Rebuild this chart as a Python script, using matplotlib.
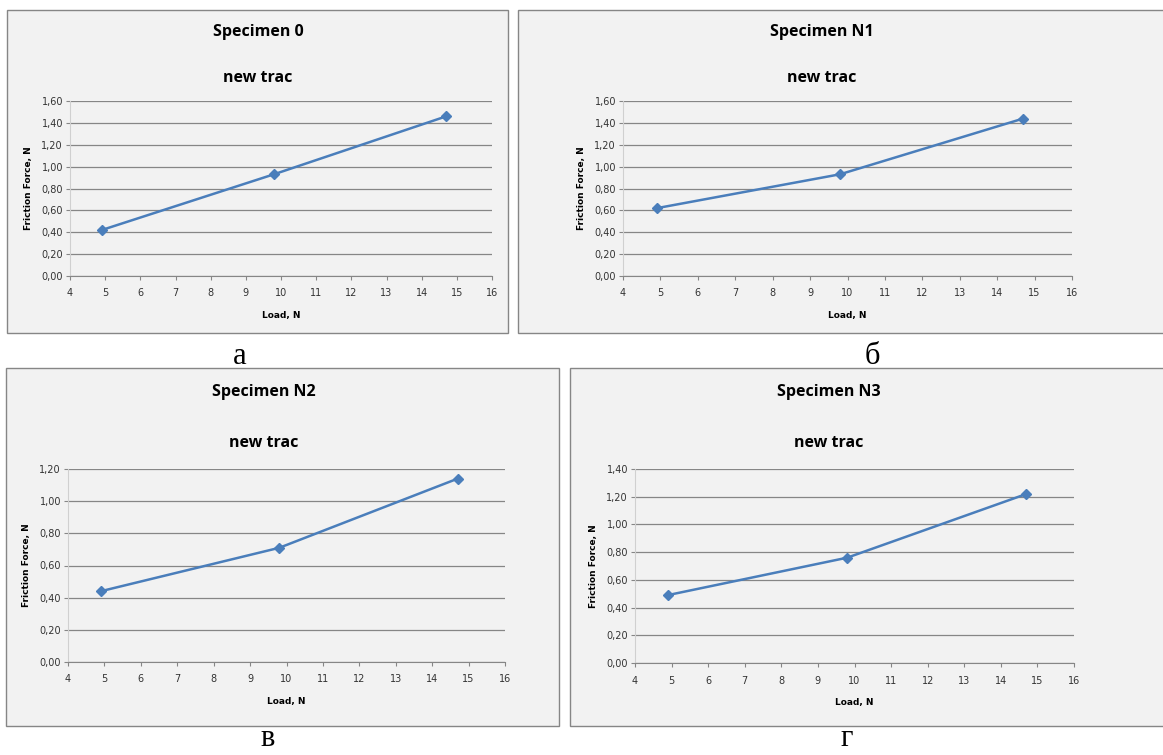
import matplotlib.pyplot as plt
from matplotlib.patches import Rectangle
from matplotlib.ticker import FuncFormatter, MultipleLocator

# data
load = [4.9, 9.8, 14.7]
force_0 = [0.42, 0.93, 1.46]
force_n1 = [0.62, 0.93, 1.44]
force_n2 = [0.44, 0.71, 1.14]
force_n3 = [0.49, 0.76, 1.22]

titles = ['Specimen 0', 'Specimen N1', 'Specimen N2', 'Specimen N3']
letters = ['а', 'б', 'в', 'г']
y_tops = [1.6, 1.6, 1.2, 1.4]

W, H = 1163, 755
fig = plt.figure(figsize=(W / 100, H / 100), dpi=100)
fig.patch.set_facecolor('white')


def px(x0, y0, x1, y1):
    # pixel box (top-left origin) -> figure fraction rect
    return [x0 / W, (H - y1) / H, (x1 - x0) / W, (y1 - y0) / H]


# panel frames, axes boxes, title/label positions (pixels)
frames = [(7, 10, 508, 333), (518, 10, 1170, 333),
          (6, 368, 559, 726), (570, 368, 1170, 726)]
boxes = [(70, 101, 492, 276), (623, 101, 1072, 276),
         (68, 469, 505, 662), (635, 469, 1074, 663)]
title_pos = [(258, 32, 78), (822, 32, 78), (264, 392, 443), (829, 392, 443)]
letter_pos = [(240, 364), (872, 364), (268, 746), (847, 746)]

comma = FuncFormatter(lambda v, p: ('%.2f' % v).replace('.', ','))


def panel(i, y):
    fx0, fy0, fx1, fy1 = frames[i]
    fig.add_artist(Rectangle((fx0 / W, (H - fy1) / H), (fx1 - fx0) / W,
                             (fy1 - fy0) / H, transform=fig.transFigure,
                             facecolor='#f2f2f2', edgecolor='#868686',
                             linewidth=1.0, zorder=0))
    bx0, by0, bx1, by1 = boxes[i]
    ax = fig.add_axes(px(bx0, by0, bx1, by1))
    ax.set_facecolor('none')
    ax.plot(load, y, color='#4a7ebb', linewidth=1.8, marker='D',
            markersize=5, clip_on=False, zorder=3)
    ax.set_xlim(4, 16)
    ax.set_ylim(0, y_tops[i])
    ax.xaxis.set_major_locator(MultipleLocator(1))
    ax.yaxis.set_major_locator(MultipleLocator(0.2))
    ax.yaxis.set_major_formatter(comma)
    ax.grid(axis='y', color='#868686', linewidth=0.9)
    ax.set_axisbelow(True)
    for s in ['top', 'right']:
        ax.spines[s].set_visible(False)
    ax.spines['left'].set_color('#d0d0d0')
    ax.spines['bottom'].set_color('#868686')
    ax.tick_params(axis='x', direction='out', length=3, color='#868686',
                   labelsize=7, labelcolor='#333333', pad=6)
    ax.tick_params(axis='y', direction='out', length=3, color='#868686',
                   labelsize=7, labelcolor='#333333', pad=2)
    ax.set_xlabel('Load, N', fontsize=6.5, fontweight='bold', labelpad=9)
    ax.set_ylabel('Friction Force, N', fontsize=6.5, fontweight='bold',
                  labelpad=6)
    tx, ty1, ty2 = title_pos[i]
    fig.text(tx / W, 1 - ty1 / H, titles[i], ha='center', va='center',
             fontsize=11.5, fontweight='bold', family='Open Sans')
    fig.text(tx / W, 1 - ty2 / H, 'new trac', ha='center',
             va='center', fontsize=11.5, fontweight='bold', family='Open Sans')
    lx, ly = letter_pos[i]
    fig.text(lx / W, 1 - ly / H, letters[i], ha='center', va='baseline',
             fontsize=22, family='Liberation Serif')


panel(0, force_0)
panel(1, force_n1)
panel(2, force_n2)
panel(3, force_n3)

fig.savefig('out.png', dpi=100)
